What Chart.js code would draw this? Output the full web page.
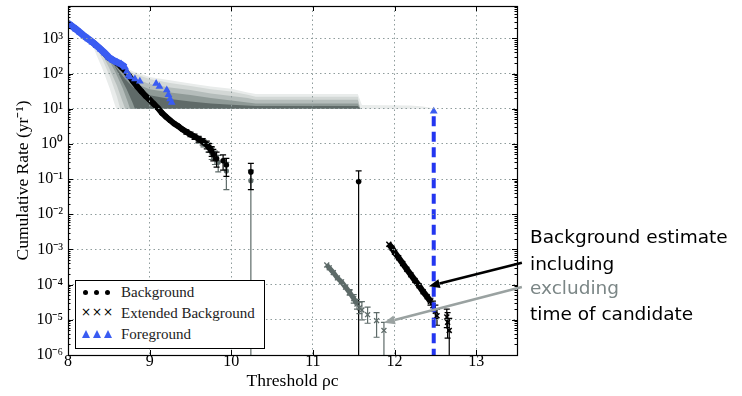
<!DOCTYPE html>
<html><head><meta charset="utf-8">
<script src="https://cdn.jsdelivr.net/npm/chart.js@4.4.1/dist/chart.umd.min.js"></script>
<style>
html,body{margin:0;padding:0;background:#fff;}
#wrap{position:relative;width:742px;height:396px;overflow:hidden;background:#fff;}
#c{position:absolute;left:0;top:0;}
.legend{position:absolute;left:75px;top:280px;width:190px;height:69px;border:1px solid #000;background:#fff;box-sizing:border-box;font-family:"Liberation Serif",serif;font-size:15px;color:#222;}
.row{position:absolute;left:0;width:100%;height:20px;line-height:20px;}
.row .lab{position:absolute;left:45px;top:0;}
.mk{position:absolute;top:0;width:40px;height:20px;}
.dot{position:absolute;top:8px;width:5px;height:5px;border-radius:50%;background:#000;}
.xx{position:absolute;top:-1px;font-family:"DejaVu Sans",sans-serif;font-size:12px;color:#000;}
.tri{position:absolute;top:6px;width:0;height:0;border-left:4px solid transparent;border-right:4px solid transparent;border-bottom:8px solid #3a5cf2;}
.note{position:absolute;left:530px;font-family:"DejaVu Sans",sans-serif;font-size:18.5px;line-height:22px;white-space:nowrap;color:#000;}
</style></head>
<body>
<div id="wrap">
<canvas id="c" width="742" height="396"></canvas>
<div class="legend">
  <div class="row" style="top:1px"><div class="mk"><span class="dot" style="left:7px"></span><span class="dot" style="left:18px"></span><span class="dot" style="left:29px"></span></div><span class="lab">Background</span></div>
  <div class="row" style="top:22px"><div class="mk"><span class="xx" style="left:5px">×</span><span class="xx" style="left:16px">×</span><span class="xx" style="left:27px">×</span></div><span class="lab">Extended Background</span></div>
  <div class="row" style="top:43px"><div class="mk"><span class="tri" style="left:6px"></span><span class="tri" style="left:17px"></span><span class="tri" style="left:28px"></span></div><span class="lab">Foreground</span></div>
</div>
<div class="note" style="top:226px">Background estimate</div>
<div class="note" style="top:253px">including</div>
<div class="note" style="top:277px;color:#7b8686">excluding</div>
<div class="note" style="top:303px">time of candidate</div>
</div>
<script>
// ---------------- data ----------------
const xTicks = [8, 9, 10, 11, 12, 13];
const xMin = 8, xMax = 13.5, yMin = 1e-6, yMax = 8300;

// Foreground (blue triangles); first fgDense points form the dense band
const fgX = [8.00,8.05,8.10,8.15,8.20,8.25,8.30,8.35,8.40,8.45,8.50,8.55,8.60,8.65,8.70,
             8.72,8.74,8.76,8.82,8.88,9.08,9.12,9.21,9.23,9.25,9.27,12.48];
const fgY = [2700,2200,1800,1450,1150,950,780,620,490,380,290,240,210,185,150,
             115,90,80,70,60,52,43,34,25,19,15,8.5];
const fgDense = 15;

// Background including candidate time (black dots)
const bgX = [8.00,8.10,8.20,8.30,8.40,8.50,8.55,8.60,8.65,8.70,8.75,8.80,8.85,8.90,8.95,9.00,9.05,9.10,9.15,9.20,
             9.25,9.30,9.35,9.40,9.45,9.50,9.55,9.60,9.65,9.70,9.73,9.76,9.78,9.82,9.90,9.94,10.24,11.56];
const bgY = [2700,1800,1150,780,490,280,240,200,155,118,85,59,42,31,23,18,13.8,10.5,7.6,5.9,
             4.7,3.8,3.2,2.6,2.2,1.86,1.62,1.38,1.17,0.95,0.79,0.63,0.5,0.38,0.33,0.25,0.16,0.085];
const bgLo = [null,null,null,null,null,null,null,null,null,null,null,null,null,null,null,null,null,null,null,null,
              null,null,null,null,1.9,1.6,1.35,1.12,0.93,0.72,0.58,0.44,0.33,0.22,0.18,0.12,0.05,1e-8];
const bgHi = [null,null,null,null,null,null,null,null,null,null,null,null,null,null,null,null,null,null,null,null,
              null,null,null,null,2.5,2.15,1.9,1.65,1.42,1.2,1.02,0.84,0.7,0.58,0.49,0.39,0.28,0.17];
const bgDense = 32;

// Background excluding candidate time (grey dots)
const bgExX = [9.60,9.66,9.72,9.76,9.80,9.84,9.94,10.24];
const bgExY = [1.3,1.05,0.8,0.55,0.42,0.3,0.17,0.09];
const bgExLo = [1.05,0.82,0.58,0.36,0.26,0.16,0.05,1e-8];
const bgExHi = [1.6,1.3,1.05,0.78,0.62,0.47,0.3,0.18];

// Extended background excluding candidate time (grey crosses)
const extExX = [11.17,11.20,11.25,11.30,11.35,11.40,11.45,11.50,11.54,11.57,11.60,11.67,11.78,11.87];
const extExY = [3.6e-4,3.0e-4,2.2e-4,1.55e-4,1.2e-4,8.5e-5,6e-5,4e-5,2.8e-5,2.2e-5,1.9e-5,1.4e-5,9.5e-6,5e-6];
const extExLo = [null,null,null,null,null,null,5e-5,3e-5,2e-5,1.5e-5,1e-5,8e-6,3.2e-6,1e-8];
const extExHi = [null,null,null,null,null,null,7.2e-5,5.2e-5,3.8e-5,3.2e-5,3.3e-5,2.3e-5,1.6e-5,8.5e-6];
const extExDense = 9;

// Extended background including candidate time (black crosses)
const extX = [11.93,11.97,12.00,12.05,12.10,12.15,12.20,12.25,12.30,12.35,12.40,12.44,12.47,12.50,12.52,12.64,12.65,12.67];
const extY = [1.4e-3,1.1e-3,8.3e-4,5.8e-4,4.0e-4,2.75e-4,1.9e-4,1.32e-4,9.3e-5,6.3e-5,4.5e-5,3.3e-5,2.5e-5,1.75e-5,1.3e-5,1.2e-5,8.5e-6,5e-6];
const extLo = [null,null,null,null,null,null,null,null,null,null,null,2.6e-5,1.8e-5,1.1e-5,7e-6,6e-6,3e-6,1e-8];
const extHi = [null,null,null,null,null,null,null,null,null,null,null,4.1e-5,3.4e-5,2.6e-5,2.0e-5,2.0e-5,1.6e-5,1.1e-5];
const extDense = 12;

// Background-distribution bands (outer to inner): upper edge, then lower-left edge
const band1Up = [[8.27,950],[8.3,800],[8.4,520],[8.5,330],[8.6,210],[8.7,150],[8.8,115],[9.0,80],[9.25,64],[9.5,52],[9.75,43],[10.0,37],[10.2,29],[10.3,26],[11.55,26],[11.6,12.8],[12.2,12.4],[12.35,11.5],[12.5,10]];
const band1Lo = [[8.27,950],[8.35,330],[8.42,140],[8.51,38],[8.56,16],[8.59,10]];
const band2Up = [[8.32,700],[8.4,500],[8.5,320],[8.6,200],[8.7,140],[8.8,100],[9.0,70],[9.25,54],[9.5,44],[9.75,36],[10.0,31],[10.2,25],[10.3,22],[11.55,22],[11.58,10]];
const band2Lo = [[8.32,700],[8.42,260],[8.52,75],[8.6,22],[8.64,10]];
const band3Up = [[8.4,430],[8.5,300],[8.6,180],[8.7,110],[8.8,75],[9.0,50],[9.25,40],[9.5,34],[9.75,27],[10.0,23],[10.2,20],[10.3,18],[11.55,18],[11.58,10]];
const band3Lo = [[8.4,430],[8.5,150],[8.6,45],[8.66,18],[8.7,10]];
const band4Up = [[8.48,300],[8.6,150],[8.7,85],[8.8,55],[9.0,36],[9.25,29],[9.5,24.5],[9.75,20],[10.0,17],[10.3,14],[11.55,14],[11.58,10]];
const band4Lo = [[8.48,300],[8.58,110],[8.67,38],[8.73,16],[8.76,10]];
const band5Up = [[8.53,250],[8.6,140],[8.7,70],[8.8,40],[9.0,24],[9.25,19],[9.5,16],[9.75,14],[10.0,13],[10.3,12],[11.55,12],[11.58,10]];
const band5Lo = [[8.53,250],[8.63,90],[8.72,35],[8.79,15],[8.82,10]];
const bandColors = ['#e9eceb','#d3d8d6','#b5bdbb','#8f9a97','#5f6a68'];

// Annotation anchors (data coordinates)
const arrowIncl = {from:[13.56,4.2e-4], to:[12.42,9e-5]};
const arrowExcl = {from:[13.56,8.5e-5], to:[11.87,8.3e-6]};

// ---------------- build ----------------
const pts = (xs, ys, n) => xs.slice(0, n ?? xs.length).map((x,i)=>({x, y: ys[i]}));
const poly = (up, lo) => up.concat(lo.slice().reverse()).map(p=>({x:p[0], y:p[1]}));

const BLACK = '#000000', GREY = '#5e6b69', BLUE = '#3a5cf2', DBLUE = '#2336f0';
const datasets = [];
[[band1Up,band1Lo],[band2Up,band2Lo],[band3Up,band3Lo],[band4Up,band4Lo],[band5Up,band5Lo]].forEach((b,i)=>{
  datasets.push({data: poly(b[0], b[1]), showLine:true, fill:'shape', backgroundColor: bandColors[i],
    borderWidth:0, borderColor:'rgba(0,0,0,0)', pointRadius:0, tension:0, order: 100 - i});
});
datasets.push({data: pts(bgExX,bgExY), showLine:false, pointStyle:'circle', pointRadius:2.6, pointBackgroundColor:GREY, pointBorderWidth:0,
  errLo: bgExLo, errHi: bgExHi, errColor: GREY, order: 60});
datasets.push({data: pts(bgX,bgY,bgDense), showLine:true, borderColor:BLACK, borderWidth:6, pointRadius:0, fill:false, order: 55});
datasets.push({data: pts(bgX,bgY), showLine:false, pointStyle:'circle', pointRadius:2.8, pointBackgroundColor:BLACK, pointBorderWidth:0,
  errLo: bgLo, errHi: bgHi, errColor: BLACK, order: 50});
datasets.push({data: pts(extExX,extExY,extExDense), showLine:true, borderColor:GREY, borderWidth:5, pointRadius:0, fill:false, order: 45});
datasets.push({data: pts(extExX,extExY), showLine:false, pointStyle:'crossRot', pointRadius:3.5, pointBorderColor:GREY, pointBorderWidth:1.3,
  errLo: extExLo, errHi: extExHi, errColor: GREY, order: 44});
datasets.push({data: pts(extX,extY,extDense), showLine:true, borderColor:BLACK, borderWidth:6, pointRadius:0, fill:false, order: 41});
datasets.push({data: pts(extX,extY), showLine:false, pointStyle:'crossRot', pointRadius:3.5, pointBorderColor:BLACK, pointBorderWidth:1.5,
  errLo: extLo, errHi: extHi, errColor: BLACK, order: 40});
datasets.push({data: pts(fgX,fgY,fgDense), showLine:true, borderColor:BLUE, borderWidth:7, pointRadius:0, fill:false, order: 21});
datasets.push({data: pts(fgX,fgY), showLine:false, pointStyle:'triangle', pointRadius:4.5, pointBackgroundColor:BLUE, pointBorderWidth:0, order: 20});
const cX = fgX[fgX.length-1], cY = fgY[fgY.length-1];
datasets.push({data: [{x:cX, y:cY*0.72},{x:cX, y:yMin*0.5}], showLine:true, borderColor:DBLUE, borderWidth:4, borderDash:[10,5.5],
  pointRadius:0, fill:false, order: 10});

const SUP = {'-':'⁻','0':'⁰','1':'¹','2':'²','3':'³','4':'⁴','5':'⁵','6':'⁶','7':'⁷','8':'⁸','9':'⁹'};
const isPow10 = v => { const e = Math.round(Math.log10(v)); return Math.abs(v/Math.pow(10,e)-1) < 1e-6; };
const powLabel = v => { if(!isPow10(v)) return ''; const e = Math.round(Math.log10(v)); return '10' + String(e).split('').map(c=>SUP[c]).join(''); };
const yTickVals = [];
for (let e = -6; e <= 3; e++) for (let m = 1; m <= 9; m++) { const v = m*Math.pow(10,e); if (v <= yMax) yTickVals.push(v); }

const errPlugin = {
  id:'errbars',
  afterDatasetDraw(chart, args){
    const ds = chart.data.datasets[args.index];
    if(!ds.errLo) return;
    const {ctx, chartArea:a} = chart, x = chart.scales.x, y = chart.scales.y;
    ctx.save(); ctx.beginPath(); ctx.rect(a.left,a.top,a.right-a.left,a.bottom-a.top); ctx.clip();
    ctx.strokeStyle = ds.errColor; ctx.lineWidth = 1.2;
    ds.data.forEach((p,i)=>{
      const lo = ds.errLo[i], hi = ds.errHi[i];
      if(lo == null) return;
      const px = x.getPixelForValue(p.x), yl = y.getPixelForValue(lo), yh = y.getPixelForValue(hi);
      ctx.beginPath(); ctx.moveTo(px,yl); ctx.lineTo(px,yh);
      ctx.moveTo(px-3,yh); ctx.lineTo(px+3,yh); ctx.moveTo(px-3,yl); ctx.lineTo(px+3,yl); ctx.stroke();
    });
    ctx.restore();
  }
};
function arrow(ctx, x0, y0, x1, y1, color){
  const ang = Math.atan2(y1-y0, x1-x0), L = 11, W = 4.5;
  const bx = x1 - L*Math.cos(ang), by = y1 - L*Math.sin(ang);
  ctx.strokeStyle = color; ctx.fillStyle = color; ctx.lineWidth = 2.6;
  ctx.beginPath(); ctx.moveTo(x0,y0); ctx.lineTo(bx,by); ctx.stroke();
  ctx.beginPath(); ctx.moveTo(x1,y1);
  ctx.lineTo(bx + W*Math.sin(ang), by - W*Math.cos(ang));
  ctx.lineTo(bx - W*Math.sin(ang), by + W*Math.cos(ang));
  ctx.closePath(); ctx.fill();
}
const framePlugin = {
  id:'frame',
  afterDraw(chart){
    const {ctx, chartArea:a} = chart, x = chart.scales.x, y = chart.scales.y;
    ctx.save();
    ctx.strokeStyle = '#000'; ctx.lineWidth = 1;
    ctx.beginPath();
    x.ticks.forEach(t=>{ const px = Math.round(x.getPixelForValue(t.value))+0.5;
      ctx.moveTo(px,a.bottom); ctx.lineTo(px,a.bottom-5); ctx.moveTo(px,a.top); ctx.lineTo(px,a.top+5); });
    yTickVals.forEach(v=>{ const py = Math.round(y.getPixelForValue(v))+0.5; const L = isPow10(v) ? 5 : 2.5;
      if (py < a.top || py > a.bottom+1) return;
      ctx.moveTo(a.left,py); ctx.lineTo(a.left+L,py); ctx.moveTo(a.right,py); ctx.lineTo(a.right-L,py); });
    ctx.stroke();
    ctx.lineWidth = 1.2;
    ctx.strokeRect(Math.round(a.left)+0.5, Math.round(a.top)+0.5, Math.round(a.right-a.left), Math.round(a.bottom-a.top));
    arrow(ctx, x.getPixelForValue(arrowIncl.from[0]), y.getPixelForValue(arrowIncl.from[1]),
               x.getPixelForValue(arrowIncl.to[0]), y.getPixelForValue(arrowIncl.to[1]), '#000');
    arrow(ctx, x.getPixelForValue(arrowExcl.from[0]), y.getPixelForValue(arrowExcl.from[1]),
               x.getPixelForValue(arrowExcl.to[0]), y.getPixelForValue(arrowExcl.to[1]), '#9aa2a1');
    ctx.restore();
  }
};

new Chart(document.getElementById('c'), {
  type:'line',
  data:{datasets},
  options:{
    responsive:false, animation:false, events:[],
    layout:{padding:{left:0, right:225, top:6, bottom:0}},
    plugins:{legend:{display:false}, tooltip:{enabled:false}},
    scales:{
      x:{type:'linear', min:xMin, max:xMax,
        afterBuildTicks: s => { s.ticks = xTicks.map(v=>({value:v})); },
        afterFit: s => { s.height = 41; s.paddingLeft = 0; s.paddingRight = 0; },
        ticks:{autoSkip:false, maxRotation:0, padding:-1, color:'#000', font:{family:'Liberation Serif', size:16, lineHeight:1}},
        grid:{z:1, drawTicks:false, color:'#8f9c9c', lineWidth:1},
        border:{display:false, dash:[1.5,3]},
        title:{display:true, text:'Threshold ρc', color:'#000', font:{family:'Liberation Serif', size:17.5}, padding:{top:0,bottom:4}}
      },
      y:{type:'logarithmic', min:yMin, max:yMax,
        afterBuildTicks: s => { s.ticks = yTickVals.filter(v => v <= 1000.0001).map(v=>({value:v})); },
        afterFit: s => { s.width = 68; s.paddingTop = 0; s.paddingBottom = 0; },
        ticks:{autoSkip:false, padding:5, color:'#000', font:{family:'Liberation Serif', size:16}, callback: v => powLabel(v)},
        grid:{z:1, drawTicks:false, lineWidth:1, color: c => (c.tick && isPow10(c.tick.value)) ? '#8f9c9c' : 'rgba(0,0,0,0)'},
        border:{display:false, dash:[1.5,3]},
        title:{display:true, text:'Cumulative Rate (yr⁻¹)', color:'#000', font:{family:'Liberation Serif', size:17.5}, padding:{top:13,bottom:0}}
      }
    }
  },
  plugins:[errPlugin, framePlugin]
});
</script>
</body></html>
